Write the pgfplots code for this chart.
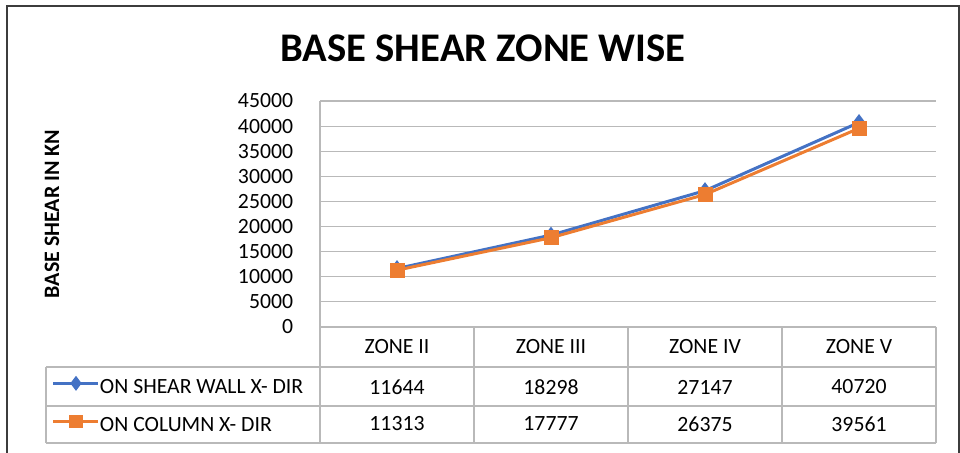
\documentclass[border=0pt]{standalone}
\usepackage{fontspec}
\setmainfont{Carlito}
\usepackage{pgfplots}
\pgfplotsset{compat=1.18}
\definecolor{sblue}{RGB}{68,114,196}
\definecolor{sorange}{RGB}{237,125,49}
\definecolor{gridc}{RGB}{185,185,185}
\definecolor{framec}{RGB}{60,60,60}
\begin{document}
\begin{tikzpicture}[x=0.75pt,y=0.75pt]
\useasboundingbox (0,0) rectangle (960,453);
\coordinate (A) at (320,126);
% outer frame
\draw[framec, line width=1.5pt] (7,-10) -- (7,447) -- (959,447) -- (959,-10);
% title
\node[anchor=base, font=\fontsize{30.5}{33}\selectfont\bfseries] at (483,391) {BASE SHEAR ZONE WISE};
% y label
\node[rotate=90, font=\fontsize{16.5}{18}\selectfont\bfseries] at (52,239) {BASE SHEAR IN KN};
\begin{axis}[
  at={(A)}, anchor=south west,
  scale only axis, width=462pt, height=169.5pt,
  xmin=-0.5, xmax=3.5, ymin=0, ymax=45000,
  xtick=\empty,
  ytick={0,5000,...,45000},
  scaled y ticks=false,
  ymajorgrids, grid style={gridc, line width=0.8pt},
  axis line style={draw=none},
  major tick length=0pt,
  /pgf/number format/assume math mode=true,
  /pgf/number format/1000 sep={},
  yticklabel style={font=\fontsize{16.3}{16}\selectfont, anchor=east, inner sep=0pt},
  yticklabel shift=20pt,
  clip=false,
  legend style={at={(-0.4351,-0.177)}, anchor=north west, draw=none, fill=none,
    inner sep=0pt, outer sep=0pt, row sep=0pt,
    font=\fontsize{16.3}{16}\selectfont,
    nodes={inner sep=0pt, text height=19.75pt, text depth=8.75pt}},
  /tikz/every even column/.append style={column sep=3pt},
  legend cell align=left,
  legend image code/.code={\draw[mark repeat=2,mark phase=2, yshift=2pt, mark size=3.8pt] plot coordinates {(0pt,0pt) (16.9pt,0pt) (33.75pt,0pt)};},
]
\addplot[sblue, line width=2.25pt, mark=diamond*, mark size=4.5pt, mark options={solid}] coordinates {(0,11644) (1,18298) (2,27147) (3,40720)};
\addlegendentry{ON SHEAR WALL X- DIR}
\addplot[sorange, line width=2.25pt, mark=square*, mark size=4.5pt, mark options={solid}] coordinates {(0,11313) (1,17777) (2,26375) (3,39561)};
\addlegendentry{ON COLUMN X- DIR}
\end{axis}
% axis left line
\draw[gridc, line width=0.8pt] (320,126) -- (320,352);
% data table grid
\begin{scope}[gridc, line width=0.8pt]
\draw (320,126) -- (936,126);
\draw (46,86) -- (936,86);
\draw (46,47) -- (936,47);
\draw (46,10) -- (936,10);
\draw (46,86) -- (46,10);
\foreach \xx in {320,474,628,782,936} \draw (\xx,126) -- (\xx,10);
\end{scope}
\begin{scope}[font=\fontsize{16.3}{16}\selectfont]
\node at (397,106) {ZONE II};
\node at (551,106) {ZONE III};
\node at (705,106) {ZONE IV};
\node at (859,106) {ZONE V};
\node at (397,66) {11644};
\node at (551,66) {18298};
\node at (705,66) {27147};
\node at (859,66) {40720};
\node at (397,29) {11313};
\node at (551,29) {17777};
\node at (705,29) {26375};
\node at (859,29) {39561};
\end{scope}
\end{tikzpicture}
\end{document}
